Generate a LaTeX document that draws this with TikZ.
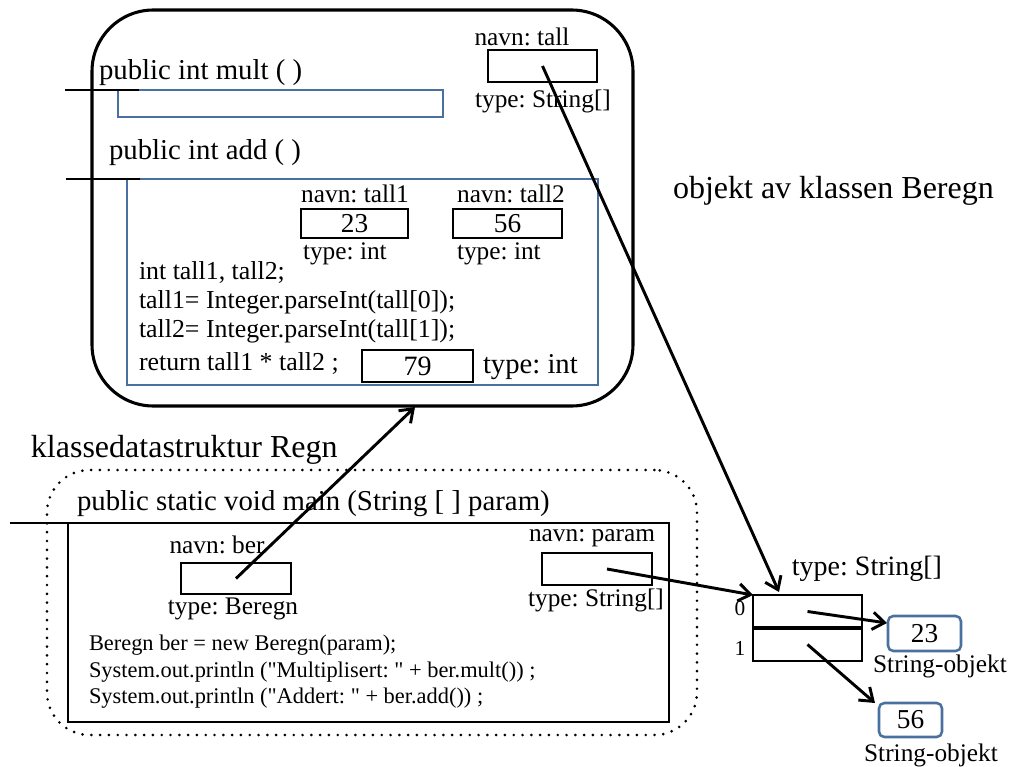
\documentclass[tikz,border=0pt]{standalone}
\usepackage{fontspec}
\setmainfont{Liberation Serif}[Ligatures=TeXOff]
\usetikzlibrary{arrows.meta,fit}
\definecolor{boxblue}{RGB}{74,112,160}
\newcommand{\fsz}[1]{\fontsize{#1}{#1}\selectfont}
\frenchspacing
\begin{document}
\begin{tikzpicture}[x=0.75pt,y=-0.75pt,
  every node/.style={inner sep=0pt,outer sep=0pt},
  bk/.style={draw=black,line width=1.5pt},
  bl/.style={draw=boxblue,line width=1.9pt},
  rbl/.style={draw=boxblue,line width=1.9pt,rounded corners=4pt},
  arr/.style={-{Straight Barb[length=9pt,width=13pt]},line width=2.2pt},
  hdr/.style={font=\fsz{21.6pt},anchor=base west},
  lab/.style={font=\fsz{19pt}},
  num/.style={font=\fsz{20.5pt}},
  code/.style={font=\fsz{19.4pt},anchor=base west},
  mcode/.style={font=\fsz{16.8pt},anchor=base west},
  big/.style={font=\fsz{24pt},anchor=base west},
  tick/.style={line width=1.8pt}]
\useasboundingbox (0,0) rectangle (1011,767);

% object of class Beregn
\node[draw,line width=2.3pt,rounded corners=46pt,fit={(92,10)(633,406)}] (obj) {};
\node[big] (objlab) at (673,198) {objekt av klassen Beregn};

\node[lab] (tallname) at (522,37) {navn: tall};
\node[bk,fit={(488,50)(597,82)}] (tallbox) {};
\node[lab] (talltype) at (543,101) {type: String[]};

\node[hdr] (multhdr) at (99,80) {public int mult ( )};
\node[bl,fit={(118,90)(443,117)}] (multbody) {};
\draw[tick] (multbody.north west) ++(-53,0) -- ++(74,0);

\node[hdr] (addhdr) at (109,160) {public int add ( )};
\node[bl,fit={(127,179)(598,385)}] (addbody) {};
\draw[tick] (addbody.north west) ++(-61,0) -- ++(74,0);

\node[lab] (t1name) at (355,194) {navn: tall1};
\node[bk,fit={(301,209)(408,238)}] (t1box) {};
\node[num] (t1val) at (t1box.center) {23};
\node[lab,anchor=west] (t1type) at (303,254) {type: int};
\node[lab] (t2name) at (511,194) {navn: tall2};
\node[bk,fit={(453,209)(562,238)}] (t2box) {};
\node[num] (t2val) at (t2box.center) {56};
\node[lab,anchor=west] (t2type) at (457,254) {type: int};

\node[code] (c1) at (139,279) {int tall1, tall2;};
\node[code] (c2) at (139,308) {tall1= Integer.parseInt(tall[0]);};
\node[code] (c3) at (139,337) {tall2= Integer.parseInt(tall[1]);};
\node[code] (c4) at (139,370) {return tall1 * tall2 ;};
\node[bk,fit={(362,350)(473,382)}] (resbox) {};
\node[font=\fsz{21pt}] (resval) at (resbox.center) {79};
\node[font=\fsz{21.5pt},anchor=west] (restype) at (483,367) {type: int};

% class data structure Regn
\node[big] (clslab) at (31,457) {klassedatastruktur Regn};
\node[draw,line width=2.2pt,line cap=round,dash pattern=on 0pt off 6.6pt,
      rounded corners=32pt,fit={(47,470)(697,735)}] (cls) {};
\node[hdr] (mainhdr) at (77,510) {public static void main (String [ ] param)};
\node[bk,fit={(68,523)(669,722)}] (mainbody) {};
\draw[tick] (mainbody.north west) ++(-58,0) -- ++(73,0);

\node[lab] (bername) at (217,545) {navn: ber};
\node[bk,fit={(181,563)(291,594)}] (berbox) {};
\node[lab] (bertype) at (233,609) {type: Beregn};

\node[lab] (parname) at (592,538) {navn: param};
\node[bk,fit={(542,553)(652,585)}] (parbox) {};
\node[lab] (partype) at (596,600) {type: String[]};

\node[mcode] (m1) at (89,650) {Beregn ber = new Beregn(param);};
\node[mcode] (m2) at (89,677) {System.out.println ("Multiplisert: " + ber.mult()) ;};
\node[mcode] (m3) at (89,703) {System.out.println ("Addert: " + ber.add()) ;};

% array
\node[font=\fsz{21pt}] (arrtype) at (867,569) {type: String[]};
\node[bk,fit={(753,595)(862,628)}] (cell0) {};
\node[bk,fit={(753,628)(862,661)}] (cell1) {};
\draw[line width=3.2pt] (cell0.south west) -- (cell0.south east);
\node[font=\fsz{16pt}] (idx0) at (740,609) {0};
\node[font=\fsz{16pt}] (idx1) at (740,648) {1};

\node[rbl,fit={(888,616)(961,651)}] (s23) {};
\node[num] (s23val) at (s23.center) {23};
\node[lab] (s23lab) at (940,666) {String-objekt};
\node[rbl,fit={(879,703)(942,737)}] (s56) {};
\node[num] (s56val) at (s56.center) {56};
\node[lab] (s56lab) at (931,755) {String-objekt};

% connectors
\coordinate (objin) at (415,407);
\coordinate (arrin) at (779,592);
\coordinate (s23in) at (887,623);
\coordinate (s56in) at (875,703);
\draw[arr] (berbox.center) -- (objin);
\draw[arr] (tallbox.center) -- (arrin);
\draw[arr] (parbox.center) ++(10,0) -- (cell0.north west);
\draw[arr] (cell0.center) -- (s23in);
\draw[arr] (cell1.center) -- (s56in);
\end{tikzpicture}
\end{document}
